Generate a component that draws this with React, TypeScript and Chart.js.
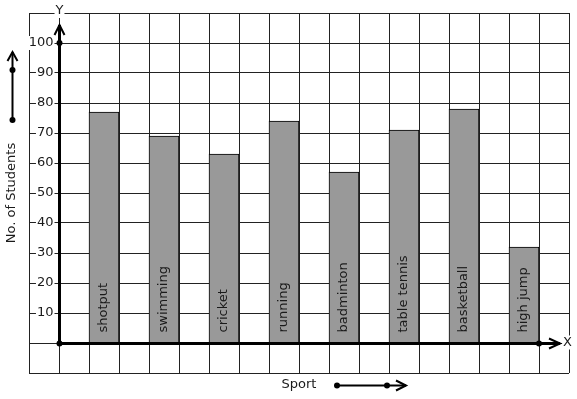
import React, { useEffect, useRef } from 'react';
import { Chart, registerables } from 'chart.js';

Chart.register(...registerables);

const categories = ['shotput', 'swimming', 'cricket', 'running', 'badminton', 'table tennis', 'basketball', 'high jump'];
const studentCounts = [77, 69, 63, 74, 57, 71, 78, 32];
const yTickLabels = [10, 20, 30, 40, 50, 60, 70, 80, 90, 100];
const xAxisTitle = 'Sport';
const yAxisTitle = 'No. of Students';

export default function App() {
  const ref = useRef<HTMLCanvasElement>(null);

  useEffect(() => {
    document.body.style.margin = '0';
    const canvas = ref.current;
    if (!canvas) return;
    const FONT = '13px "DejaVu Sans"';
    const TEXT = '#1a1a1a';

    const overlay = {
      id: 'overlay',
      afterDatasetsDraw(chart: any) {
        const ctx: CanvasRenderingContext2D = chart.ctx;
        const xs = chart.scales.x;
        const ys = chart.scales.y;
        const ox = Math.round(xs.getPixelForValue(0)) + 0.5;
        const oy = Math.round(ys.getPixelForValue(0)) + 0.5;
        const line = (x1: number, y1: number, x2: number, y2: number) => {
          ctx.beginPath();
          ctx.moveTo(x1, y1);
          ctx.lineTo(x2, y2);
          ctx.stroke();
        };
        const dot = (x: number, y: number) => {
          ctx.beginPath();
          ctx.arc(x, y, 3, 0, Math.PI * 2);
          ctx.fill();
        };
        const labelBg = (text: string, x: number, y: number, align: CanvasTextAlign) => {
          const w = ctx.measureText(text).width;
          let left = x;
          if (align === 'right') left = x - w;
          else if (align === 'center') left = x - w / 2;
          ctx.fillStyle = '#fff';
          ctx.fillRect(left - 1, y - 7, w + 2, 14);
          ctx.fillStyle = TEXT;
          ctx.textAlign = align;
          ctx.textBaseline = 'middle';
          ctx.fillText(text, x, y);
        };

        ctx.save();
        ctx.font = FONT;

        // tick labels
        yTickLabels.forEach((v) => {
          labelBg(String(v), ox - 6, ys.getPixelForValue(v), 'right');
        });

        // axis letters
        labelBg('Y', ox, chart.chartArea.top - 2, 'center');
        labelBg('X', xs.getPixelForValue(16.95), oy - 1, 'center');

        // axes
        ctx.strokeStyle = '#000';
        ctx.fillStyle = '#000';
        ctx.lineWidth = 3;
        const yTip = ys.getPixelForValue(106);
        const xTip = xs.getPixelForValue(16.7);
        line(ox, oy, ox, yTip);
        line(ox, oy, xTip, oy);
        ctx.lineWidth = 2;
        ctx.beginPath();
        ctx.moveTo(ox - 5, yTip + 10);
        ctx.lineTo(ox, yTip);
        ctx.lineTo(ox + 5, yTip + 10);
        ctx.stroke();
        ctx.beginPath();
        ctx.moveTo(xTip - 11, oy - 5);
        ctx.lineTo(xTip, oy);
        ctx.lineTo(xTip - 11, oy + 5);
        ctx.stroke();
        dot(ox, oy);
        dot(ox, ys.getPixelForValue(100));
        dot(xs.getPixelForValue(16), oy);

        // bar labels
        const meta = chart.getDatasetMeta(0);
        meta.data.forEach((bar: any, i: number) => {
          ctx.save();
          ctx.translate(bar.x, oy - 11);
          ctx.rotate(-Math.PI / 2);
          ctx.fillStyle = TEXT;
          ctx.textAlign = 'left';
          ctx.textBaseline = 'middle';
          ctx.fillText(categories[i], 0, 0);
          ctx.restore();
        });

        // y title with arrow
        ctx.save();
        ctx.translate(12, 193);
        ctx.rotate(-Math.PI / 2);
        ctx.fillStyle = TEXT;
        ctx.textAlign = 'center';
        ctx.textBaseline = 'middle';
        ctx.fillText(yAxisTitle, 0, 0);
        ctx.restore();
        ctx.strokeStyle = '#000';
        ctx.fillStyle = '#000';
        ctx.lineWidth = 2;
        line(12.5, 120, 12.5, 52);
        ctx.beginPath();
        ctx.moveTo(7.5, 61);
        ctx.lineTo(12.5, 52);
        ctx.lineTo(17.5, 61);
        ctx.stroke();
        dot(12.5, 70);
        dot(12.5, 120);

        // x title with arrow
        const sx = xs.getPixelForValue(8);
        ctx.fillStyle = TEXT;
        ctx.textAlign = 'center';
        ctx.textBaseline = 'middle';
        ctx.fillText(xAxisTitle, sx, 385);
        ctx.strokeStyle = '#000';
        ctx.fillStyle = '#000';
        line(337, 385.5, 406, 385.5);
        ctx.beginPath();
        ctx.moveTo(396, 380.5);
        ctx.lineTo(406, 385.5);
        ctx.lineTo(396, 390.5);
        ctx.stroke();
        dot(337, 385.5);
        dot(387, 385.5);

        ctx.restore();
      },
    };

    const chart = new Chart(canvas, {
      type: 'bar',
      data: {
        datasets: [
          {
            label: 'Students',
            data: studentCounts.map((v, i) => ({ x: 1.5 + 2 * i, y: v })),
            backgroundColor: '#999999',
            borderColor: '#000000',
            borderWidth: 1,
            borderSkipped: 'bottom',
            barThickness: 30,
          },
        ],
      },
      options: {
        responsive: false,
        animation: false,
        layout: { padding: { left: 29, right: 8, top: 13, bottom: 26 } },
        plugins: { legend: { display: false }, tooltip: { enabled: false } },
        scales: {
          x: {
            type: 'linear',
            min: -1,
            max: 17,
            offset: false,
            ticks: { display: false, stepSize: 1 },
            grid: { color: '#222', lineWidth: 1, drawTicks: false, offset: false },
            border: { display: false },
          },
          y: {
            type: 'linear',
            min: -10,
            max: 110,
            ticks: { display: false, stepSize: 10 },
            grid: { color: '#222', lineWidth: 1, drawTicks: false },
            border: { display: false },
          },
        },
      },
      plugins: [overlay],
    });
    return () => chart.destroy();
  }, []);

  return (
    <div style={{ width: 577, height: 399 }}>
      <canvas ref={ref} width={577} height={399} />
    </div>
  );
}
